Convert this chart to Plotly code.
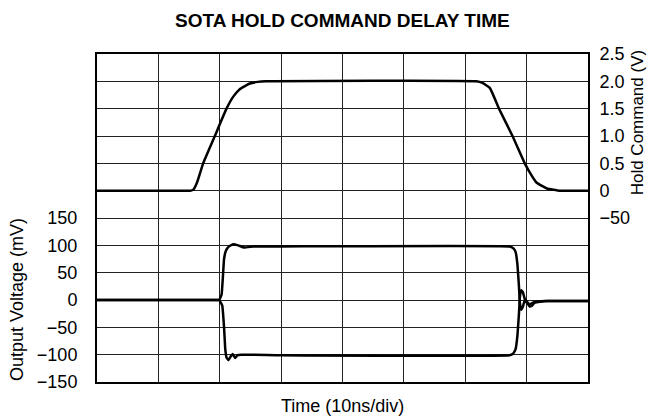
import plotly.graph_objects as go

# Time axis in divisions (10 ns/div)
hold_t = [0, 1.45, 1.52, 1.57, 1.63, 1.73, 1.92, 2.11, 2.22, 2.33, 2.49, 2.62, 2.75,
          6.18, 6.28, 6.40, 6.55, 6.77, 6.97, 7.08, 7.16, 7.33, 7.54, 7.65, 8.0]
hold_v = [0, 0, 0, 0.02, 0.15, 0.5, 1.0, 1.5, 1.72, 1.86, 1.96, 1.99, 2.0,
          2.0, 1.97, 1.88, 1.5, 1.0, 0.5, 0.28, 0.15, 0.04, 0.0, 0.0, 0.0]

up_t = [0, 1.90, 1.99, 2.03, 2.05, 2.07, 2.10, 2.15, 2.22, 2.30, 2.40, 2.55, 3.0,
        6.72, 6.78, 6.82, 6.85, 6.875, 6.89, 6.91, 6.94, 6.97, 7.01, 7.05, 7.08,
        7.13, 7.22, 7.35, 8.0]
up_v = [0, 0, 0, 10, 40, 75, 90, 98, 102, 100, 96, 98, 98,
        98, 95, 88, 65, 25, -5, -18, -12, 0, -6, -12, -11,
        -5, -3, -2, -2]

lo_t = [0, 1.90, 1.99, 2.04, 2.07, 2.09, 2.11, 2.14, 2.18, 2.21, 2.25, 2.29, 2.35, 3.0,
        6.72, 6.78, 6.82, 6.85, 6.875, 6.89, 6.91, 6.94, 6.97, 7.01, 7.05,
        7.12, 7.30, 8.0]
lo_v = [0, 0, 0, -10, -50, -90, -105, -110, -103, -99, -106, -101, -100, -101,
        -101, -98, -90, -65, -25, 5, 18, 14, 2, -4, -8,
        -4, -2, -2]

left_vals = list(range(-150, 451, 50))
left_text = [("\u2212" + str(-v)) if v < 0 else str(v) for v in left_vals]
left_text = [t if v <= 150 else "" for v, t in zip(left_vals, left_text)]

right_vals = [-3.5 + 0.5 * i for i in range(13)]
right_labels = {2.5: "2.5", 2.0: "2.0", 1.5: "1.5", 1.0: "1.0", 0.5: "0.5", 0.0: "0", -0.5: "\u221250"}
right_text = [right_labels.get(round(v, 1), "") for v in right_vals]

FONT = "Liberation Sans, Arial, Helvetica, sans-serif"
LINE = dict(color="black", width=2.5)

fig = go.Figure()
fig.add_trace(go.Scatter(x=hold_t, y=hold_v, yaxis="y2", mode="lines",
                         line=dict(shape="spline", smoothing=0.4, **LINE), showlegend=False))
fig.add_trace(go.Scatter(x=up_t, y=up_v, mode="lines",
                         line=dict(shape="spline", smoothing=0.3, **LINE), showlegend=False))
fig.add_trace(go.Scatter(x=lo_t, y=lo_v, mode="lines",
                         line=dict(shape="spline", smoothing=0.3, **LINE), showlegend=False))

fig.update_layout(
    width=657, height=420,
    margin=dict(l=89, r=77, t=46, b=46),
    paper_bgcolor="white", plot_bgcolor="white",
    font=dict(family=FONT, size=18, color="black"),
    title=dict(text="<b>SOTA HOLD COMMAND DELAY TIME</b>", x=0.509, xanchor="center",
               y=1 - 12 / 420, yanchor="middle", font=dict(size=19, family=FONT)),
    xaxis=dict(range=[0, 8], tickmode="linear", tick0=0, dtick=1, showticklabels=False,
               showgrid=True, gridcolor="#222", gridwidth=1, zeroline=False,
               showline=True, linecolor="black", linewidth=2, mirror=True, ticks="",
               automargin=False),
    yaxis=dict(range=[-150, 450], tickmode="array", tickvals=left_vals, ticktext=left_text,
               showgrid=True, gridcolor="#222", gridwidth=1, zeroline=False,
               showline=True, linecolor="black", linewidth=2, mirror=True,
               ticks="outside", ticklen=0, ticklabelstandoff=14, automargin=False),
    yaxis2=dict(range=[-3.5, 2.5], overlaying="y", side="right", tickmode="array",
                tickvals=right_vals, ticktext=right_text, showgrid=False, zeroline=False,
                showline=False, ticks="outside", ticklen=0, ticklabelstandoff=7,
                automargin=False),
    annotations=[
        dict(text="Output Voltage (mV)", xref="paper", yref="y", x=0, y=0, xshift=-80,
             textangle=-90, showarrow=False, xanchor="center", yanchor="middle",
             font=dict(size=18)),
        dict(text="Hold Command (V)", xref="paper", yref="y2", x=1, y=1.25, xshift=49,
             textangle=-90, showarrow=False, xanchor="center", yanchor="middle",
             font=dict(size=17)),
        dict(text="Time (10ns/div)", xref="paper", yref="paper", x=0.5, y=0, yshift=-24,
             showarrow=False, xanchor="center", yanchor="middle", font=dict(size=18)),
    ],
)

fig.write_html("out.html")
